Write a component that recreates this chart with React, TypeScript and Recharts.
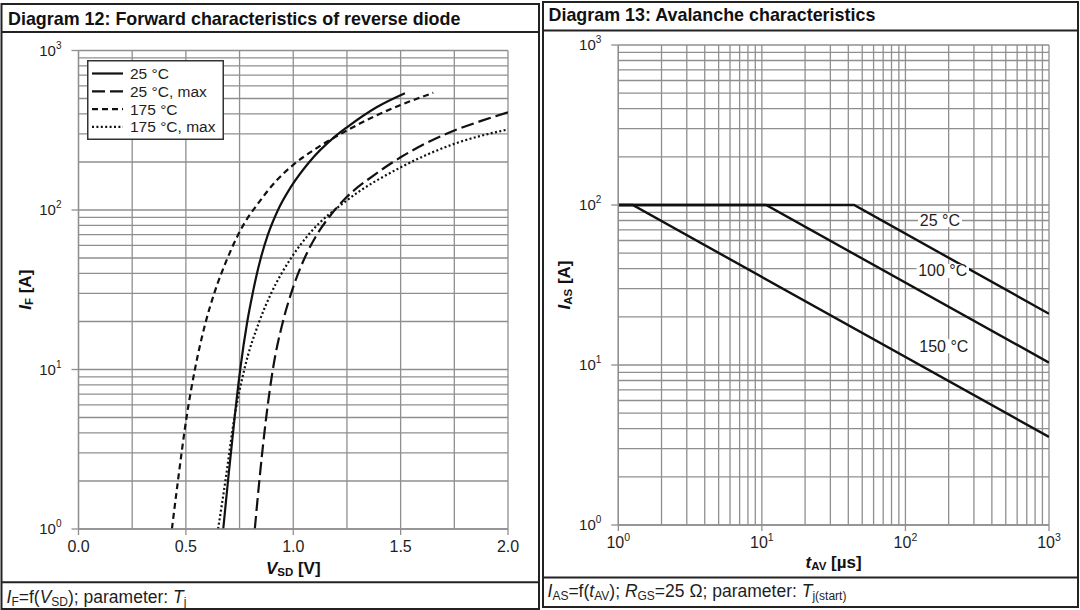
import React from 'react';
import { LineChart, Line, XAxis, YAxis, CartesianGrid, Legend, ReferenceDot, Label } from 'recharts';

const FONT = "'Liberation Sans', Arial, Helvetica, sans-serif";
const GRID = '#8f8f8f';
const TXT = '#1e1e1e';
const INK = '#111111';

// ---------- Diagram 12: forward characteristics of reverse diode ----------
const vsd25 = [0.674, 0.696, 0.727, 0.753, 0.786, 0.811, 0.831, 0.849, 0.882, 0.929, 0.990, 1.075, 1.191, 1.250, 1.388, 1.520];
const if25 = [1, 2, 5, 10, 20, 30, 40, 50, 70, 100, 140, 200, 286, 330, 441, 540];

const vsd25max = [0.821, 0.842, 0.874, 0.905, 0.952, 0.990, 1.053, 1.110, 1.180, 1.25, 1.375, 1.5, 1.625, 1.75, 1.875, 2.0];
const if25max = [1, 2, 5, 10, 20, 30, 50, 70, 95, 121, 165, 214, 265, 315, 362, 410];

const vsd175 = [0.435, 0.463, 0.503, 0.542, 0.593, 0.632, 0.694, 0.755, 0.847, 0.920, 1.0, 1.1, 1.25, 1.375, 1.5, 1.652];
const if175 = [1, 2, 5, 10, 20, 30, 50, 75, 115, 152, 192, 240, 315, 385, 455, 543];

const vsd175max = [0.650, 0.684, 0.726, 0.772, 0.842, 0.897, 0.990, 1.075, 1.250, 1.5, 1.75, 2.0];
const if175max = [1, 2, 5, 10, 20, 30, 50, 71, 115, 185, 260, 320];

const diodeNames = ['25 °C', '25 °C, max', '175 °C', '175 °C, max'];
const vsdTicks = [0, 0.25, 0.5, 0.75, 1.0, 1.25, 1.5, 1.75, 2.0];
const logTicks = [
  1, 2, 3, 4, 5, 6, 7, 8, 9,
  10, 20, 30, 40, 50, 60, 70, 80, 90,
  100, 200, 300, 400, 500, 600, 700, 800, 900,
  1000,
];

// ---------- Diagram 13: avalanche characteristics ----------
const tav25 = [1, 43.9, 1000];
const ias25 = [100, 100, 20.9];
const tav100 = [1, 10.7, 1000];
const ias100 = [100, 100, 10.35];
const tav150 = [1, 1.26, 1000];
const ias150 = [100, 100, 3.55];
const avalNames = ['25 °C', '100 °C', '150 °C'];
const labelT = [174, 182, 185];
const labelI = [80.5, 38.7, 13.1];

const pts = (xs: number[], ys: number[]) => xs.map((x, i) => ({ x, y: ys[i] }));

const diodeSeries = [
  { name: diodeNames[0], data: pts(vsd25, if25), dash: undefined as string | undefined },
  { name: diodeNames[1], data: pts(vsd25max, if25max), dash: '13 5' },
  { name: diodeNames[2], data: pts(vsd175, if175), dash: '6 4' },
  { name: diodeNames[3], data: pts(vsd175max, if175max), dash: '2 2.4' },
];

const avalSeries = [
  { name: avalNames[0], data: pts(tav25, ias25) },
  { name: avalNames[1], data: pts(tav100, ias100) },
  { name: avalNames[2], data: pts(tav150, ias150) },
];

const isDecade = (v: number) => {
  const e = Math.round(Math.log10(v));
  return Math.abs(v - Math.pow(10, e)) < 1e-9;
};

const LogYTick = (props: any) => {
  const { x, y, payload } = props;
  const v = payload.value;
  if (!isDecade(v)) return <g />;
  const e = Math.round(Math.log10(v));
  return (
    <g>
      <line x1={x - 7} x2={x} y1={y} y2={y} stroke={GRID} strokeWidth={1.3} />
      <text x={x - 17} y={y + 5} textAnchor="end" fontSize={15} fill={TXT} fontFamily={FONT}>
        10<tspan dy={-7} fontSize={10}>{e}</tspan>
      </text>
    </g>
  );
};

const LogXTick = (props: any) => {
  const { x, y, payload } = props;
  const v = payload.value;
  if (!isDecade(v)) return <g />;
  const e = Math.round(Math.log10(v));
  return (
    <g>
      <line x1={x} x2={x} y1={y} y2={y + 6} stroke={GRID} strokeWidth={1.3} />
      <text x={x} y={y + 23} textAnchor="middle" fontSize={16} fill={TXT} fontFamily={FONT}>
        10<tspan dy={-7} fontSize={10.5}>{e}</tspan>
      </text>
    </g>
  );
};

const VsdTick = (props: any) => {
  const { x, y, payload } = props;
  const v = payload.value;
  if (Math.abs(v * 2 - Math.round(v * 2)) > 1e-6) return <g />;
  return (
    <g>
      <line x1={x} x2={x} y1={y} y2={y + 6} stroke={GRID} strokeWidth={1.3} />
      <text x={x} y={y + 22.5} textAnchor="middle" fontSize={16} fill={TXT} fontFamily={FONT}>
        {v.toFixed(1)}
      </text>
    </g>
  );
};

const xTitle = (main: string, sub: string, unit: string, dyBase: number) => (props: any) => {
  const vb = props.viewBox || {};
  const cx = vb.x + vb.width / 2;
  const by = vb.y + dyBase;
  return (
    <text x={cx} y={by} textAnchor="middle" fontSize={17} fontWeight="bold" fill={INK} fontFamily={FONT} style={{ whiteSpace: 'pre' }}>
      <tspan fontStyle="italic">{main}</tspan>
      <tspan fontSize={11.5} dy={2}>{sub}</tspan>
      <tspan dy={-2}>{' ' + unit}</tspan>
    </text>
  );
};

const yTitle = (main: string, sub: string, unit: string) => (props: any) => {
  const vb = props.viewBox || {};
  const cx = vb.x + 6;
  const cy = vb.y + vb.height / 2;
  const bx = cx + 6;
  return (
    <text x={bx} y={cy} textAnchor="middle" fontSize={17} fontWeight="bold" fill={INK} fontFamily={FONT}
      transform={`rotate(-90, ${bx}, ${cy})`} style={{ whiteSpace: 'pre' }}>
      <tspan fontStyle="italic">{main}</tspan>
      <tspan fontSize={11.5} dy={2}>{sub}</tspan>
      <tspan dy={-2}>{' ' + unit}</tspan>
    </text>
  );
};

const DiodeLegend = () => {
  const rows = [13.5, 31.3, 49.1, 66.9];
  return (
    <svg width={137} height={80} style={{ display: 'block' }}>
      <rect x={0.75} y={0.75} width={135.5} height={78.5} fill="#fff" stroke="#333" strokeWidth={1.5} />
      {diodeSeries.map((s, i) => (
        <g key={s.name}>
          <line x1={5} x2={36} y1={rows[i]} y2={rows[i]} stroke={INK} strokeWidth={2.2} strokeDasharray={s.dash} />
          <text x={43} y={rows[i] + 5.5} fontSize={15.5} fill={TXT} fontFamily={FONT}>{s.name}</text>
        </g>
      ))}
    </svg>
  );
};

const CurveLabel = (text: string) => (props: any) => {
  const { cx, cy } = props;
  const w = text.length * 8.4 + 2;
  return (
    <g>
      <rect x={cx - w / 2} y={cy - 7} width={w} height={14} fill="#fff" />
      <text x={cx} y={cy + 5.5} textAnchor="middle" fontSize={16} fill={TXT} fontFamily={FONT}>{text}</text>
    </g>
  );
};

export default function App() {
  return (
    <div style={{ position: 'absolute', left: 0, top: 0, width: 1080, height: 610, background: '#fff', overflow: 'hidden', fontFamily: FONT }}>
      <svg width={1080} height={610} style={{ position: 'absolute', left: 0, top: 0 }}>
        {/* left panel frame */}
        <rect x={1.5} y={4} width={537.5} height={605} fill="none" stroke="#222" strokeWidth={2} />
        <line x1={1.5} x2={539} y1={32} y2={32} stroke="#222" strokeWidth={2} />
        <line x1={1.5} x2={539} y1={582.3} y2={582.3} stroke="#222" strokeWidth={2} />
        <text x={8} y={25} fontSize={17.9} fontWeight="bold" fill={INK} fontFamily={FONT}>
          Diagram 12: Forward characteristics of reverse diode
        </text>
        <text x={6.5} y={602.5} fontSize={17.5} fill={TXT} fontFamily={FONT} style={{ whiteSpace: 'pre' }}>
          <tspan fontStyle="italic">I</tspan>
          <tspan fontSize={12} dy={3}>F</tspan>
          <tspan dy={-3}>=f(</tspan>
          <tspan fontStyle="italic">V</tspan>
          <tspan fontSize={12} dy={3}>SD</tspan>
          <tspan dy={-3}>); parameter: </tspan>
          <tspan fontStyle="italic">T</tspan>
          <tspan fontSize={12} dy={3}>j</tspan>
        </text>

        {/* right panel frame */}
        <rect x={543} y={2} width={535} height={605} fill="none" stroke="#222" strokeWidth={2} />
        <line x1={543} x2={1078} y1={30.5} y2={30.5} stroke="#222" strokeWidth={2} />
        <line x1={543} x2={1078} y1={577.5} y2={577.5} stroke="#222" strokeWidth={2} />
        <text x={548.5} y={21} fontSize={17.9} fontWeight="bold" fill={INK} fontFamily={FONT}>
          Diagram 13: Avalanche characteristics
        </text>
        <text x={547.5} y={597} fontSize={17.5} fill={TXT} fontFamily={FONT} style={{ whiteSpace: 'pre' }}>
          <tspan fontStyle="italic">I</tspan>
          <tspan fontSize={12} dy={3}>AS</tspan>
          <tspan dy={-3}>=f(</tspan>
          <tspan fontStyle="italic">t</tspan>
          <tspan fontSize={12} dy={3}>AV</tspan>
          <tspan dy={-3}>); </tspan>
          <tspan fontStyle="italic">R</tspan>
          <tspan fontSize={12} dy={3}>GS</tspan>
          <tspan dy={-3}>=25 Ω; parameter: </tspan>
          <tspan fontStyle="italic">T</tspan>
          <tspan fontSize={12} dy={3}>j(start)</tspan>
        </text>
      </svg>

      {/* Diagram 12 chart */}
      <div style={{ position: 'absolute', left: 0, top: 0, width: 540, height: 610 }}>
        <LineChart width={540} height={610} margin={{ top: 50.5, right: 32, bottom: 51, left: 18.5 }}>
          <CartesianGrid stroke={GRID} strokeWidth={1.3} />
          <XAxis type="number" dataKey="x" domain={[0, 2]} ticks={vsdTicks} interval={0} allowDataOverflow
            height={30} tickSize={0} tickMargin={0} tickLine={false} axisLine={{ stroke: GRID, strokeWidth: 1.3 }} tick={<VsdTick />}>
            <Label content={xTitle('V', 'SD', '[V]', 45)} />
          </XAxis>
          <YAxis type="number" scale="log" domain={[1, 1000]} ticks={logTicks} interval={0} allowDataOverflow
            width={60} tickSize={0} tickMargin={0} tickLine={false} axisLine={{ stroke: GRID, strokeWidth: 1.3 }} tick={<LogYTick />}>
            <Label content={yTitle('I', 'F', '[A]')} />
          </YAxis>
          {diodeSeries.map((s) => (
            <Line key={s.name} name={s.name} data={s.data} dataKey="y" type="monotone" stroke={INK} strokeWidth={2.2}
              strokeDasharray={s.dash} dot={false} activeDot={false} isAnimationActive={false} />
          ))}
          <Legend layout="vertical" align="center" verticalAlign="middle"
            wrapperStyle={{ left: 87, top: 60, width: 137, height: 80 }} content={() => <DiodeLegend />} />
        </LineChart>
      </div>

      {/* Diagram 13 chart */}
      <div style={{ position: 'absolute', left: 540, top: 0, width: 540, height: 610 }}>
        <LineChart width={540} height={610} margin={{ top: 45, right: 31, bottom: 55, left: 18.3 }}>
          <CartesianGrid stroke={GRID} strokeWidth={1.3} />
          <XAxis type="number" dataKey="x" scale="log" domain={[1, 1000]} ticks={logTicks} interval={0} allowDataOverflow
            height={30} tickSize={0} tickMargin={0} tickLine={false} axisLine={{ stroke: GRID, strokeWidth: 1.3 }} tick={<LogXTick />}>
            <Label content={xTitle('t', 'AV', '[µs]', 43)} />
          </XAxis>
          <YAxis type="number" scale="log" domain={[1, 1000]} ticks={logTicks} interval={0} allowDataOverflow
            width={60} tickSize={0} tickMargin={0} tickLine={false} axisLine={{ stroke: GRID, strokeWidth: 1.3 }} tick={<LogYTick />}>
            <Label content={yTitle('I', 'AS', '[A]')} />
          </YAxis>
          {avalSeries.map((s) => (
            <Line key={s.name} name={s.name} data={s.data} dataKey="y" type="linear" stroke={INK} strokeWidth={2.4}
              dot={false} activeDot={false} isAnimationActive={false} />
          ))}
          {avalNames.map((n, i) => (
            <ReferenceDot key={n} x={labelT[i]} y={labelI[i]} r={0} shape={CurveLabel(n)} ifOverflow="visible" />
          ))}
        </LineChart>
      </div>
    </div>
  );
}
